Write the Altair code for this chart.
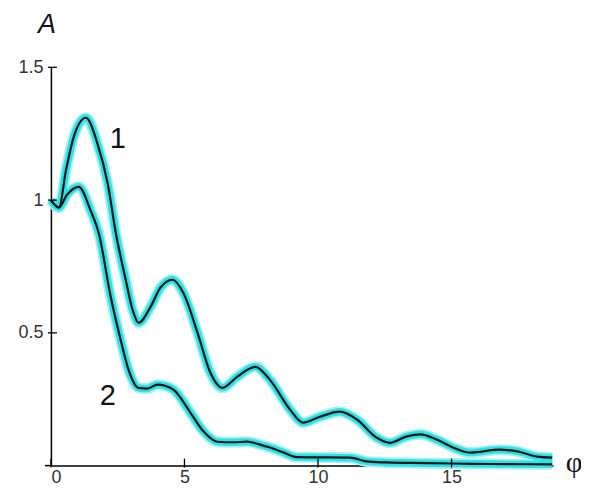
import altair as alt
import pandas as pd

# Curve 1 (phi, A)
phi1 = [0.0, 0.3, 0.56, 0.86, 1.31, 1.75, 2.13, 2.43, 2.8, 3.06, 3.28, 3.73, 4.1, 4.55,
        4.96, 5.49, 5.97, 6.42, 6.98, 7.65, 8.2, 8.96, 9.44, 10.07, 10.82, 11.46, 12.2,
        12.69, 13.3, 13.85, 14.44, 15.2, 15.7, 16.8, 17.5, 18.2, 18.77]
a1 = [1.0, 0.972, 1.11, 1.24, 1.31, 1.21, 1.06, 0.876, 0.70, 0.586, 0.538, 0.598, 0.67, 0.70,
      0.65, 0.50, 0.35, 0.293, 0.335, 0.372, 0.323, 0.21, 0.162, 0.184, 0.203, 0.173, 0.105,
      0.086, 0.109, 0.118, 0.098, 0.062, 0.049, 0.06, 0.053, 0.034, 0.03]

# Curve 2 (phi, A)
phi2 = [0.0, 0.3, 0.6, 1.04, 1.49, 1.79, 2.24, 2.61, 2.91, 3.28, 3.6, 3.99, 4.3, 4.6,
        5.22, 5.7, 6.23, 6.8, 7.35, 7.8, 8.2, 8.7, 9.2, 10.0, 11.2, 11.8, 12.5, 13.5,
        15.0, 16.5, 18.77]
a2 = [1.0, 0.972, 1.02, 1.05, 0.96, 0.876, 0.635, 0.474, 0.36, 0.293, 0.29, 0.305, 0.30, 0.285,
      0.2, 0.13, 0.09, 0.088, 0.09, 0.08, 0.068, 0.05, 0.032, 0.031, 0.03, 0.016, 0.012, 0.01,
      0.008, 0.006, 0.005]

x_ticks = [0, 5, 10, 15]
y_ticks = [0.5, 1.0, 1.5]

W, H = 503, 399

df = pd.concat([
    pd.DataFrame({"phi": phi1, "A": a1, "series": "1"}),
    pd.DataFrame({"phi": phi2, "A": a2, "series": "2"}),
])

xs = alt.Scale(domain=[0, 18.8], nice=False, zero=False)
ys = alt.Scale(domain=[0, 1.5], nice=False, zero=False)

label_font = "Liberation Sans"

x_enc = alt.X("phi:Q", scale=xs,
              axis=alt.Axis(values=x_ticks, title=None, grid=False, ticks=False, tickSize=0,
                            domainColor="#000", domainWidth=1.5, labelFont=label_font,
                            labelFontSize=18, labelColor="#333", labelPadding=3))
y_enc = alt.Y("A:Q", scale=ys,
              axis=alt.Axis(values=y_ticks, title=None, grid=False, ticks=False, tickSize=0,
                            domainColor="#000", domainWidth=1.5, labelFont=label_font,
                            labelFontSize=18, labelColor="#333", labelPadding=8,
                            labelExpr="datum.value == 1 ? '1' : datum.label"))

base = alt.Chart(df)
halo = base.mark_line(color="#aef0f0", strokeWidth=11, interpolate="monotone").encode(
    x=x_enc, y=y_enc, detail="series:N")
glow = base.mark_line(color="#2fe2e6", strokeWidth=7.5, interpolate="monotone").encode(
    x="phi:Q", y="A:Q", detail="series:N")
core = base.mark_line(color="#0d1818", strokeWidth=2.2, interpolate="monotone").encode(
    x="phi:Q", y="A:Q", detail="series:N")

yt = alt.Chart(pd.DataFrame({"A": y_ticks})).mark_rule(color="#000", strokeWidth=1.3).encode(
    y="A:Q", x=alt.value(-3), x2=alt.value(6))
xt = alt.Chart(pd.DataFrame({"phi": x_ticks})).mark_rule(color="#000", strokeWidth=1.3).encode(
    x="phi:Q", y=alt.value(H - 7), y2=alt.value(H + 2))
xext = alt.Chart(pd.DataFrame({"k": [0]})).mark_rule(color="#000", strokeWidth=1.5).encode(
    x=alt.value(-6), x2=alt.value(0), y=alt.value(H))


def txt(t, x, y, size, font="Liberation Sans", style="normal"):
    return alt.Chart(pd.DataFrame({"t": [t]})).mark_text(
        font=font, fontSize=size, fontStyle=style, color="#111", baseline="middle", align="center"
    ).encode(text="t:N", x=alt.value(x), y=alt.value(y))


tA = txt("A", -4, -42, 27, style="italic")
t1 = txt("1", 67, 72, 29)
t2 = txt("2", 57, 329, 29)
tphi = txt("φ", 524, 396, 29, font="Liberation Serif")

chart = alt.layer(halo, glow, core, yt, xt, xext, tA, t1, t2, tphi).properties(
    width=W, height=H,
    background="white",
    autosize=alt.AutoSizeParams(type="none"),
    padding={"left": 43, "top": 59, "right": 28, "bottom": 22},
).configure_view(stroke=None)

chart.save("out.html", embed_options={"renderer": "svg", "actions": False})
